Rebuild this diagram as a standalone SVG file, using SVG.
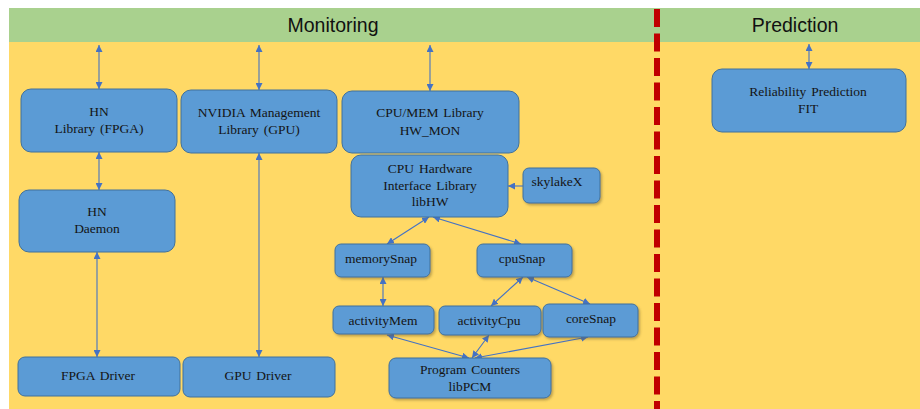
<svg xmlns="http://www.w3.org/2000/svg" width="920" height="409" viewBox="0 0 920 409">
<defs>
<marker id="ah" viewBox="0 0 7 7" markerWidth="7" markerHeight="7" refX="7" refY="3.5" orient="auto-start-reverse" markerUnits="userSpaceOnUse">
<path d="M0,0 L7,3.5 L0,7 z" fill="#4472c4"/>
</marker>
<filter id="sh" x="-10%" y="-10%" width="130%" height="140%">
<feDropShadow dx="1.5" dy="1.8" stdDeviation="0.8" flood-color="#6b5a2a" flood-opacity="0.45"/>
</filter>
</defs>
<style>
.box{fill:#5b9bd5;stroke:#41719c;stroke-width:1}
.t{font-family:"Liberation Serif","Times New Roman",serif;font-size:13.5px;fill:#141414;text-anchor:middle;word-spacing:1.5px}
.h{font-family:"Liberation Sans",Arial,sans-serif;font-size:19.5px;fill:#111;text-anchor:middle}
.c{stroke:#4472c4;stroke-width:1.1;fill:none;marker-start:url(#ah);marker-end:url(#ah)}
.c1{stroke:#4472c4;stroke-width:1.1;fill:none;marker-end:url(#ah)}
</style>
<rect x="0" y="0" width="920" height="409" fill="#ffffff"/>
<rect x="9" y="8" width="911" height="34" fill="#a9d18e"/>
<rect x="9" y="42" width="911" height="367" fill="#ffd966"/>
<line x1="657" y1="9" x2="657" y2="409" stroke="#c00000" stroke-width="6" stroke-dasharray="18 6.5"/>
<text class="h" x="333" y="32">Monitoring</text>
<text class="h" x="795" y="32">Prediction</text>

<g id="connectors">
<line class="c" x1="99" y1="45" x2="99" y2="89"/>
<line class="c" x1="259" y1="45" x2="259" y2="90"/>
<line class="c" x1="430" y1="45" x2="430" y2="91"/>
<line class="c" x1="809" y1="44" x2="809" y2="69"/>
<line class="c" x1="99" y1="152" x2="99" y2="190"/>
<line class="c" x1="259" y1="153" x2="259" y2="357"/>
<line class="c" x1="97" y1="252" x2="97" y2="357"/>
<line class="c1" x1="523" y1="186" x2="508" y2="186"/>
<line class="c" x1="429" y1="217" x2="387" y2="244"/>
<line class="c" x1="433" y1="217" x2="521" y2="244"/>
<line class="c" x1="383" y1="277" x2="383" y2="306"/>
<line class="c" x1="523" y1="277" x2="491" y2="306"/>
<line class="c" x1="527" y1="277" x2="590" y2="304"/>
<line class="c" x1="469" y1="358" x2="387" y2="335"/>
<line class="c" x1="472" y1="358" x2="489" y2="335"/>
<line class="c" x1="475" y1="358" x2="588" y2="337"/>
</g>

<g id="hn-library"><rect class="box" x="21" y="89" width="156" height="63" rx="10"/><text class="t" x="99" y="116">HN</text><text class="t" x="99" y="133">Library (FPGA)</text></g>
<g id="nvidia"><rect class="box" x="181" y="90" width="156" height="63" rx="10"/><text class="t" x="259" y="117">NVIDIA Management</text><text class="t" x="259" y="134">Library (GPU)</text></g>
<g id="cpumem"><rect class="box" x="342" y="91" width="177" height="62" rx="10"/><text class="t" x="430" y="117">CPU/MEM Library</text><text class="t" x="430" y="135">HW_MON</text></g>
<g id="hn-daemon"><rect class="box" x="19" y="190" width="156" height="62" rx="10"/><text class="t" x="97" y="216">HN</text><text class="t" x="97" y="233">Daemon</text></g>
<g id="cpu-hw"><rect class="box" x="351" y="155" width="157" height="62" rx="10"/><text class="t" x="430" y="173">CPU Hardware</text><text class="t" x="430" y="190">Interface Library</text><text class="t" x="430" y="206">libHW</text></g>
<g id="skylakex"><rect class="box" x="523" y="168" width="77" height="35" rx="6" filter="url(#sh)"/><text class="t" x="557" y="186">skylakeX</text></g>
<g id="memorysnap"><rect class="box" x="335" y="244" width="95" height="33" rx="6" filter="url(#sh)"/><text class="t" x="381" y="263">memorySnap</text></g>
<g id="cpusnap"><rect class="box" x="477" y="244" width="95" height="33" rx="6" filter="url(#sh)"/><text class="t" x="522" y="263">cpuSnap</text></g>
<g id="activitymem"><rect class="box" x="333" y="306" width="101" height="28" rx="6" filter="url(#sh)"/><text class="t" x="383" y="325">activityMem</text></g>
<g id="activitycpu"><rect class="box" x="439" y="306" width="102" height="29" rx="6" filter="url(#sh)"/><text class="t" x="489" y="325">activityCpu</text></g>
<g id="coresnap"><rect class="box" x="543" y="304" width="95" height="33" rx="6" filter="url(#sh)"/><text class="t" x="591" y="323">coreSnap</text></g>
<g id="libpcm"><rect class="box" x="389" y="358" width="162" height="40" rx="7" filter="url(#sh)"/><text class="t" x="470" y="374">Program Counters</text><text class="t" x="470" y="391">libPCM</text></g>
<g id="fpga-driver"><rect class="box" x="18" y="357" width="162" height="39" rx="7"/><text class="t" x="98" y="380">FPGA Driver</text></g>
<g id="gpu-driver"><rect class="box" x="183" y="357" width="152" height="40" rx="7"/><text class="t" x="258" y="380">GPU Driver</text></g>
<g id="reliability"><rect class="box" x="712" y="69" width="194" height="63" rx="10"/><text class="t" x="808" y="96">Reliability Prediction</text><text class="t" x="808" y="113">FIT</text></g>
</svg>
